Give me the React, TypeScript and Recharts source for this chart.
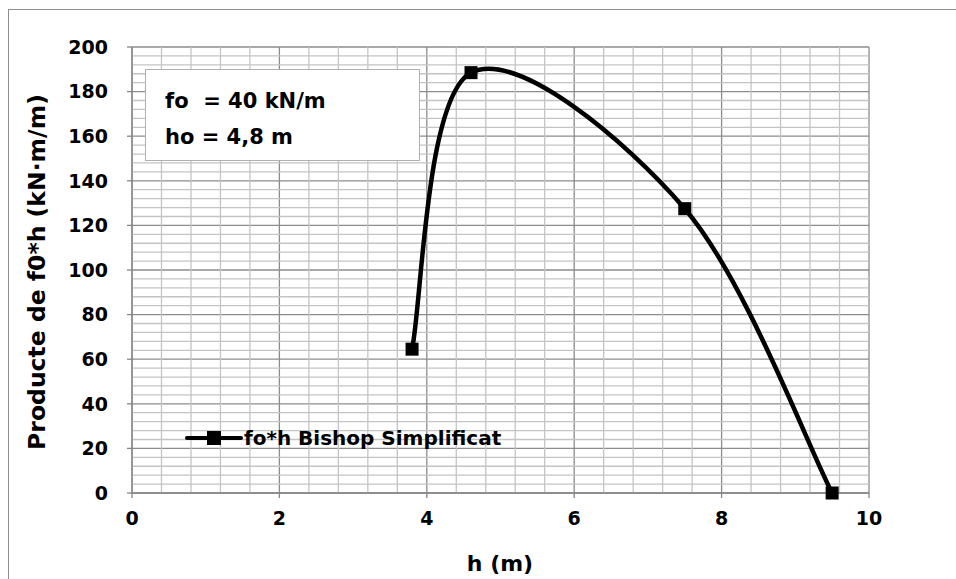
import React from 'react'
import { LineChart, Line, XAxis, YAxis, CartesianGrid, Label, ReferenceLine } from 'recharts'

// h (m) and f0*h values
const hValues = [3.8, 4.6, 7.5, 9.5]
const fhValues = [64.5, 188.5, 127.5, 0]

const xTicks = [0, 2, 4, 6, 8, 10]
const yTicks = [0, 20, 40, 60, 80, 100, 120, 140, 160, 180, 200]
// minor gridlines (every 0.4 m and every 4 units), majors left out
const xMinorTicks = Array.from({ length: 26 }, (_, i) => +(i * 0.4).toFixed(1)).filter((_, i) => i % 5 !== 0)
const yMinorTicks = Array.from({ length: 51 }, (_, i) => i * 4).filter((v) => v % 20 !== 0)

const seriesName = 'fo*h Bishop Simplificat'
const noteLines = ['fo  = 40 kN/m', 'ho = 4,8 m']

const data = hValues.map((h, i) => ({ h, fh: fhValues[i] }))

const FONT = '"DejaVu Sans", sans-serif'
const AXIS_GREY = '#868686'
const MINOR_GREY = '#c4c4c4'

// Excel-like smoothed line (cardinal spline through the points)
const excelCurve = (context: any) => {
  let pts: number[][] = []
  return {
    areaStart() {},
    areaEnd() {},
    lineStart() {
      pts = []
    },
    point(x: number, y: number) {
      pts.push([+x, +y])
    },
    lineEnd() {
      if (!pts.length) return
      context.moveTo(pts[0][0], pts[0][1])
      for (let i = 0; i < pts.length - 1; i++) {
        const p0 = pts[i - 1] || pts[i]
        const p1 = pts[i]
        const p2 = pts[i + 1]
        const p3 = pts[i + 2] || p2
        context.bezierCurveTo(
          p1[0] + (p2[0] - p0[0]) / 6,
          p1[1] + (p2[1] - p0[1]) / 6,
          p2[0] - (p3[0] - p1[0]) / 6,
          p2[1] - (p3[1] - p1[1]) / 6,
          p2[0],
          p2[1]
        )
      }
    },
  }
}

const SquareDot = (props: any) => {
  const { cx, cy } = props
  if (cx == null || cy == null) return null
  return <rect x={cx - 6.5} y={cy - 6.5} width={13} height={13} fill="#000" />
}

const tickStyle = { fill: '#000', fontFamily: FONT, fontWeight: 'bold', fontSize: 19 }

export default function App() {
  return (
    <div style={{ position: 'absolute', left: 0, top: 0, width: 956, height: 579, overflow: 'hidden', background: '#fff' }}>
      <div
        style={{
          position: 'absolute',
          left: 8,
          top: 9,
          width: 1000,
          height: 700,
          border: '1px solid #8e8e8e',
        }}
      />
      <div style={{ position: 'absolute', left: 0, top: 0 }}>
        <LineChart width={956} height={579} data={data} margin={{ top: 47, right: 87, left: 0, bottom: 0 }}>
          <CartesianGrid stroke="#8c8c8c" strokeWidth={1.3} />
          {xMinorTicks.map((v) => (
            <ReferenceLine key={'x' + v} x={v} stroke={MINOR_GREY} strokeWidth={1.3} />
          ))}
          {yMinorTicks.map((v) => (
            <ReferenceLine key={'y' + v} y={v} stroke={MINOR_GREY} strokeWidth={1.3} />
          ))}
          <XAxis
            dataKey="h"
            type="number"
            domain={[0, 10]}
            ticks={xTicks}
            interval={0}
            height={86}
            stroke={AXIS_GREY}
            strokeWidth={1.3}
            tickSize={5}
            tickMargin={14}
            tick={tickStyle}
          >
            <Label
              content={() => (
                <text x={500} y={571} textAnchor="middle" fontFamily={FONT} fontWeight="bold" fontSize={22} fill="#000">
                  h (m)
                </text>
              )}
            />
          </XAxis>
          <YAxis
            type="number"
            domain={[0, 200]}
            ticks={yTicks}
            interval={0}
            width={132}
            stroke={AXIS_GREY}
            strokeWidth={1.3}
            tickSize={5}
            tickMargin={19}
            tick={tickStyle}
          >
            <Label
              content={() => (
                <text
                  x={37}
                  y={272}
                  transform="rotate(-90 37 272)"
                  textAnchor="middle"
                  dominantBaseline="central"
                  fontFamily={FONT}
                  fontWeight="bold"
                  fontSize={23.5}
                  fill="#000"
                >
                  Producte de f0*h (kN·m/m)
                </text>
              )}
            />
          </YAxis>
          <Line
            dataKey="fh"
            name={seriesName}
            type={excelCurve as any}
            stroke="#000"
            strokeWidth={4.5}
            dot={<SquareDot />}
            activeDot={false}
            isAnimationActive={false}
          />
        </LineChart>
      </div>
      <svg style={{ position: 'absolute', left: 185, top: 425 }} width={330} height={30}>
        <line x1={2} y1={13} x2={56} y2={13} stroke="#000" strokeWidth={4} strokeLinecap="round" />
        <rect x={22} y={6} width={14} height={14} fill="#000" />
        <text x={59} y={20} fontFamily={FONT} fontWeight="bold" fontSize={20} fill="#000">
          {seriesName}
        </text>
      </svg>
      <div
        style={{
          position: 'absolute',
          left: 145,
          top: 69,
          width: 275,
          height: 92,
          background: '#fff',
          border: '1.5px solid #b0b0b0',
          boxSizing: 'border-box',
          fontFamily: FONT,
          fontWeight: 'bold',
          fontSize: 21,
          color: '#000',
          whiteSpace: 'pre',
          lineHeight: '36px',
          paddingLeft: 19,
          paddingTop: 13,
        }}
      >
        {noteLines.map((t) => (
          <div key={t}>{t}</div>
        ))}
      </div>
    </div>
  )
}
